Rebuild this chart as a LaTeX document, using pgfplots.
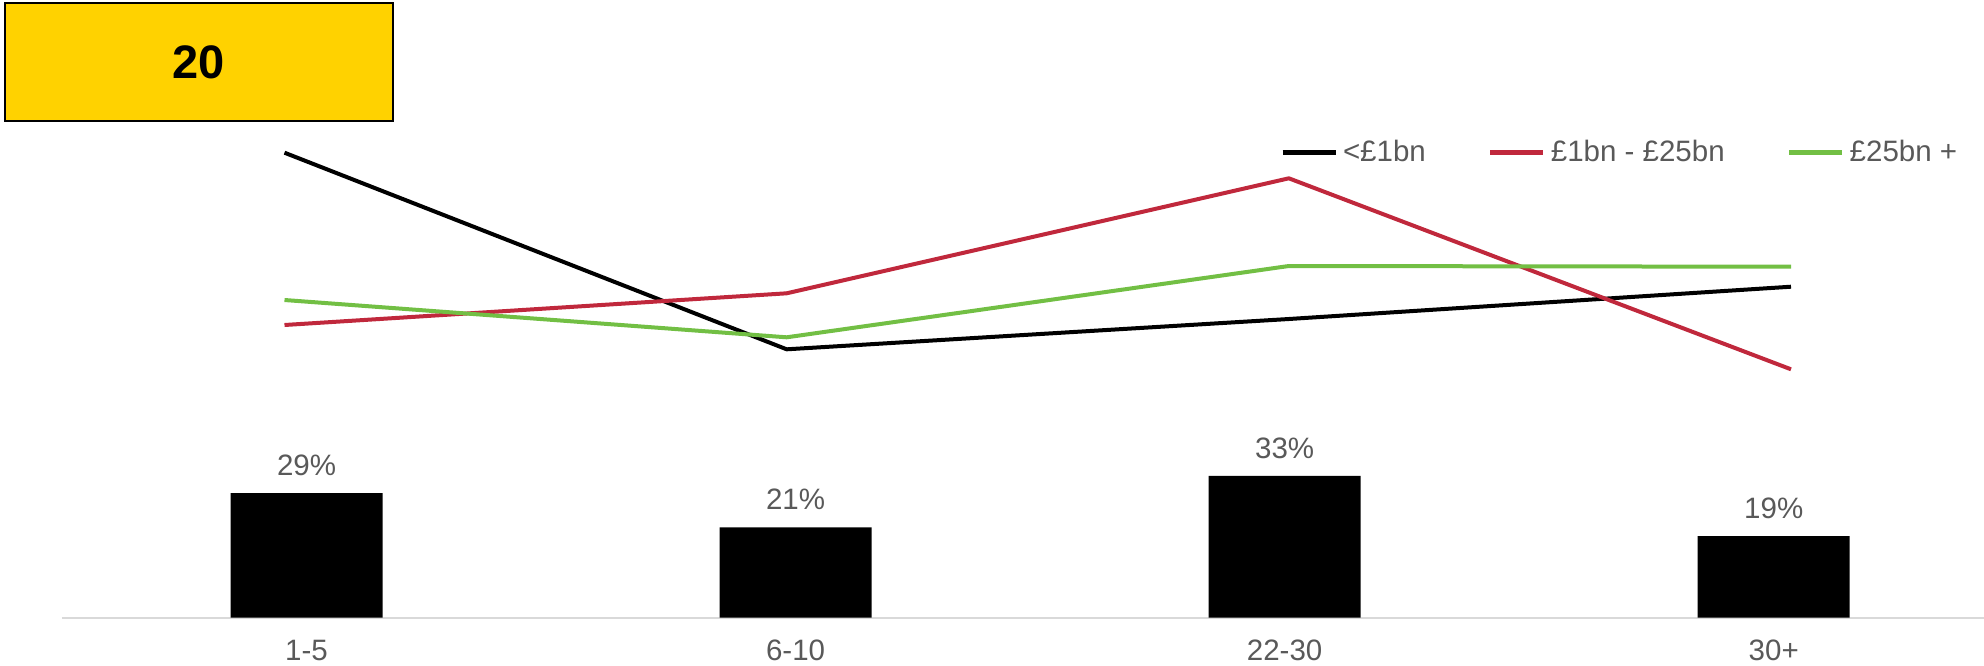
\documentclass[border=0pt]{standalone}
\usepackage{pgfplots}
\pgfplotsset{compat=1.18}
\usepackage{fontspec}
\setmainfont{Liberation Sans}
\definecolor{lblgray}{HTML}{595959}
\definecolor{myred}{HTML}{C0283C}
\definecolor{mygreen}{HTML}{72BF44}
\definecolor{boxyellow}{HTML}{FFD200}
\definecolor{axgray}{HTML}{D9D9D9}
\begin{document}
\begin{tikzpicture}[x=0.5pt,y=-0.5pt]
\path[use as bounding box] (0,0) rectangle (1984,665);
\coordinate (B) at (62,617.7);
\coordinate (L) at (284.5,400);
\node[draw=black, line width=1pt, fill=boxyellow, minimum width=194pt, minimum height=59pt, inner sep=0pt,
      font=\fontsize{23.5}{28}\selectfont\bfseries] at (199,62) {20};

% Bar chart
\begin{axis}[at={(B)}, anchor=south west, scale only axis,
  width=961pt, height=75.25pt,
  xmin=-0.5, xmax=3.43, ymin=0, ymax=35,
  axis y line=none, axis x line*=bottom,
  x axis line style={draw=axgray, line width=1pt, -},
  xtick={0,1,2,3}, xticklabels={1-5,6-10,22-30,30+},
  major tick length=0pt,
  xticklabel style={text=lblgray, font=\fontsize{14.75}{17}\selectfont, inner sep=0pt, anchor=north, yshift=-11pt},
  ybar, bar width=76pt,
  /pgf/number format/assume math mode=true,
  nodes near coords={\pgfmathprintnumber{\pgfplotspointmeta}\%},
  every node near coord/.append style={text=lblgray, font=\fontsize{14.75}{17}\selectfont, inner sep=0pt, anchor=south, yshift=8.5pt},
  clip=false]
\addplot[fill=black, draw=none] coordinates {(0,29) (1,21) (2,33) (3,19)};
\end{axis}

% Line chart
\begin{axis}[at={(L)}, anchor=south west, scale only axis,
  width=753.25pt, height=125pt,
  xmin=0, xmax=3, ymin=0, ymax=50,
  axis lines=none, clip=false,
  legend columns=3,
  legend cell align=left,
  legend style={at={(0.6608,0.989)}, anchor=west, draw=none, fill=none, inner sep=0pt, outer sep=0pt,
    column sep=2.5pt, font=\fontsize{14.75}{17}\selectfont, text=lblgray,
    nodes={inner sep=0pt},
    /tikz/every even column/.append style={column sep=31pt},
    /tikz/column 4/.append style={column sep=40pt}},
  legend image code/.code={\draw[#1, line width=2.5pt] (0pt,0pt) -- (26.5pt,0pt);}]
\addplot[black, line width=2pt, line join=round] coordinates {(0,49.46) (1,10.14) (2,16.2) (3,22.66)};
\addlegendentry{<£1bn}
\addplot[myred, line width=2pt, line join=round] coordinates {(0,15) (1,21.34) (2,44.34) (3,6.14)};
\addlegendentry{£1bn - £25bn}
\addplot[mygreen, line width=2pt, line join=round] coordinates {(0,20) (1,12.54) (2,26.8) (3,26.66)};
\addlegendentry{£25bn +}
\end{axis}
\end{tikzpicture}
\end{document}
